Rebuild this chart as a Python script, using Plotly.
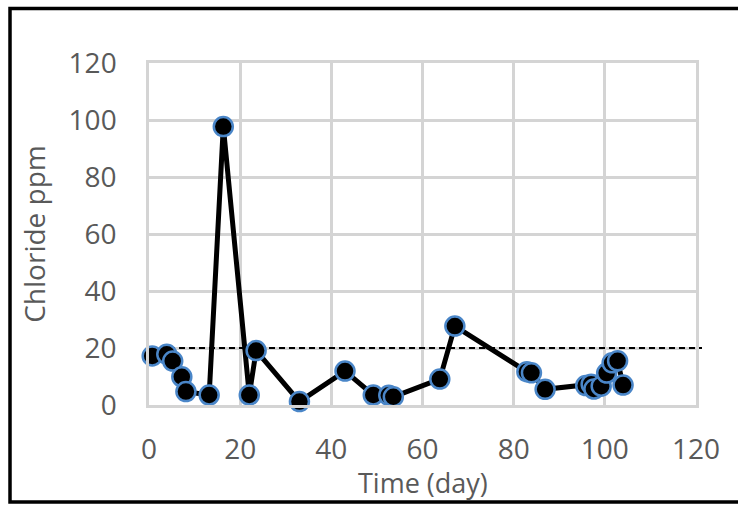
import plotly.graph_objects as go

# Chloride concentration over time
time_day = [0.7, 3.9, 5.2, 7.2, 8.1, 13.2, 16.3, 22.0, 23.5, 33.0, 43.0, 49.2,
            52.6, 53.6, 63.8, 67.1, 82.9, 83.9, 86.9, 95.8, 97.0, 97.6, 99.2,
            100.4, 101.6, 102.8, 104.0]
chloride_ppm = [17.2, 17.8, 15.4, 9.9, 4.7, 3.5, 97.7, 3.5, 19.1, 1.2, 11.9, 3.5,
                3.4, 2.9, 9.1, 27.7, 11.7, 11.3, 5.5, 6.8, 7.3, 5.6, 6.6,
                11.2, 14.8, 15.5, 7.0]

limit_ppm = 20
axis_ticks = [0, 20, 40, 60, 80, 100, 120]

GRID = "#D4D4D4"
TEXT = "#595959"
FONT = "Open Sans"
LIMIT_DASH = "6px,4px"

fig = go.Figure()

# limit line inside the plot area, drawn under the data
fig.add_trace(go.Scatter(
    x=[axis_ticks[0], axis_ticks[-1]],
    y=[limit_ppm, limit_ppm],
    mode="lines",
    line=dict(color="black", width=2, dash=LIMIT_DASH),
    hoverinfo="skip",
    showlegend=False,
))

fig.add_trace(go.Scatter(
    x=time_day,
    y=chloride_ppm,
    mode="lines+markers",
    line=dict(color="black", width=5),
    marker=dict(size=19, color="black", line=dict(color="#4A86C8", width=2.5)),
    cliponaxis=False,
    showlegend=False,
))

# short overhang of the limit line past the right edge
fig.add_shape(
    type="line", xref="paper", yref="y",
    x0=1.0, x1=1.016, y0=limit_ppm, y1=limit_ppm,
    line=dict(color="black", width=2, dash=LIMIT_DASH),
    layer="below",
)

# outer frame
fig.add_shape(
    type="rect", xref="paper", yref="paper",
    x0=-0.2541, x1=1.09, y0=-0.2836, y1=1.1594,
    line=dict(color="black", width=3.5),
    fillcolor="rgba(0,0,0,0)",
)

# x-axis title
fig.add_annotation(
    text="Time (day)", xref="paper", yref="paper",
    x=0.5, y=-0.228, xanchor="center", yanchor="middle",
    showarrow=False, font=dict(family=FONT, size=27, color=TEXT),
)

axis_common = dict(
    range=[0, 120],
    tickvals=axis_ticks,
    ticktext=[str(v) for v in axis_ticks],
    showgrid=True,
    gridcolor=GRID,
    gridwidth=2.5,
    showline=True,
    linecolor=GRID,
    linewidth=2.5,
    mirror=True,
    zeroline=False,
    ticks="",
    tickfont=dict(family=FONT, size=28, color=TEXT),
)

fig.update_layout(
    width=738,
    height=506,
    margin=dict(l=149, r=42, t=63, b=101),
    paper_bgcolor="white",
    plot_bgcolor="white",
    xaxis=dict(**axis_common, ticklabelstandoff=18),
    yaxis=dict(
        **axis_common,
        ticklabelstandoff=24,
        title=dict(text="Chloride ppm", font=dict(family=FONT, size=28, color=TEXT), standoff=15),
    ),
)

fig.write_html("out.html")
